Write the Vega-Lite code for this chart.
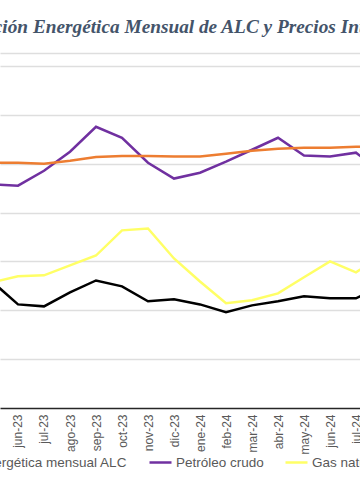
{
  "$schema": "https://vega.github.io/schema/vega-lite/v6.json",
  "autosize": {"type": "none"},
  "padding": {"top": 53, "left": 0, "right": 0, "bottom": 96},
  "width": 360,
  "height": 355,
  "background": "#ffffff",
  "title": {
    "text": "Producción Energética Mensual de ALC y Precios Internacionales",
    "font": "Liberation Serif",
    "fontSize": 19.3,
    "fontStyle": "italic",
    "fontWeight": "bold",
    "color": "#44546A",
    "anchor": "middle",
    "frame": "group",
    "baseline": "alphabetic",
    "offset": 22,
    "dx": 21,
    "dy": 21
  },
  "config": {
    "view": {"stroke": null},
    "axis": {"labelFont": "Liberation Sans", "labelColor": "#595959"}
  },
  "data": {
    "values": [
      {"i": 0, "mes": "may-23", "serie": "Producción energética mensual ALC", "valor": 51.8},
      {"i": 1, "mes": "jun-23", "serie": "Producción energética mensual ALC", "valor": 42.4},
      {"i": 2, "mes": "jul-23", "serie": "Producción energética mensual ALC", "valor": 41.6},
      {"i": 3, "mes": "ago-23", "serie": "Producción energética mensual ALC", "valor": 47.3},
      {"i": 4, "mes": "sep-23", "serie": "Producción energética mensual ALC", "valor": 52.2},
      {"i": 5, "mes": "oct-23", "serie": "Producción energética mensual ALC", "valor": 49.8},
      {"i": 6, "mes": "nov-23", "serie": "Producción energética mensual ALC", "valor": 43.7},
      {"i": 7, "mes": "dic-23", "serie": "Producción energética mensual ALC", "valor": 44.5},
      {"i": 8, "mes": "ene-24", "serie": "Producción energética mensual ALC", "valor": 42.4},
      {"i": 9, "mes": "feb-24", "serie": "Producción energética mensual ALC", "valor": 39.2},
      {"i": 10, "mes": "mar-24", "serie": "Producción energética mensual ALC", "valor": 42.0},
      {"i": 11, "mes": "abr-24", "serie": "Producción energética mensual ALC", "valor": 43.7},
      {"i": 12, "mes": "may-24", "serie": "Producción energética mensual ALC", "valor": 45.7},
      {"i": 13, "mes": "jun-24", "serie": "Producción energética mensual ALC", "valor": 44.9},
      {"i": 14, "mes": "jul-24", "serie": "Producción energética mensual ALC", "valor": 44.9},
      {"i": 15, "mes": "ago-24", "serie": "Producción energética mensual ALC", "valor": 49.8},

      {"i": 0, "mes": "may-23", "serie": "Petróleo crudo", "valor": 91.6},
      {"i": 1, "mes": "jun-23", "serie": "Petróleo crudo", "valor": 91.0},
      {"i": 2, "mes": "jul-23", "serie": "Petróleo crudo", "valor": 97.1},
      {"i": 3, "mes": "ago-23", "serie": "Petróleo crudo", "valor": 104.9},
      {"i": 4, "mes": "sep-23", "serie": "Petróleo crudo", "valor": 115.1},
      {"i": 5, "mes": "oct-23", "serie": "Petróleo crudo", "valor": 110.6},
      {"i": 6, "mes": "nov-23", "serie": "Petróleo crudo", "valor": 100.4},
      {"i": 7, "mes": "dic-23", "serie": "Petróleo crudo", "valor": 93.9},
      {"i": 8, "mes": "ene-24", "serie": "Petróleo crudo", "valor": 96.3},
      {"i": 9, "mes": "feb-24", "serie": "Petróleo crudo", "valor": 100.8},
      {"i": 10, "mes": "mar-24", "serie": "Petróleo crudo", "valor": 105.7},
      {"i": 11, "mes": "abr-24", "serie": "Petróleo crudo", "valor": 110.6},
      {"i": 12, "mes": "may-24", "serie": "Petróleo crudo", "valor": 103.3},
      {"i": 13, "mes": "jun-24", "serie": "Petróleo crudo", "valor": 102.9},
      {"i": 14, "mes": "jul-24", "serie": "Petróleo crudo", "valor": 104.5},
      {"i": 15, "mes": "ago-24", "serie": "Petróleo crudo", "valor": 96.3},

      {"i": 0, "mes": "may-23", "serie": "Gas natural", "valor": 51.4},
      {"i": 1, "mes": "jun-23", "serie": "Gas natural", "valor": 53.9},
      {"i": 2, "mes": "jul-23", "serie": "Gas natural", "valor": 54.3},
      {"i": 3, "mes": "ago-23", "serie": "Gas natural", "valor": 58.4},
      {"i": 4, "mes": "sep-23", "serie": "Gas natural", "valor": 62.4},
      {"i": 5, "mes": "oct-23", "serie": "Gas natural", "valor": 72.7},
      {"i": 6, "mes": "nov-23", "serie": "Gas natural", "valor": 73.5},
      {"i": 7, "mes": "dic-23", "serie": "Gas natural", "valor": 61.2},
      {"i": 8, "mes": "ene-24", "serie": "Gas natural", "valor": 51.8},
      {"i": 9, "mes": "feb-24", "serie": "Gas natural", "valor": 42.9},
      {"i": 10, "mes": "mar-24", "serie": "Gas natural", "valor": 44.1},
      {"i": 11, "mes": "abr-24", "serie": "Gas natural", "valor": 46.9},
      {"i": 12, "mes": "may-24", "serie": "Gas natural", "valor": 53.5},
      {"i": 13, "mes": "jun-24", "serie": "Gas natural", "valor": 60.0},
      {"i": 14, "mes": "jul-24", "serie": "Gas natural", "valor": 55.5},
      {"i": 15, "mes": "ago-24", "serie": "Gas natural", "valor": 62.4},

      {"i": 0, "mes": "may-23", "serie": "Carbón", "valor": 100.4},
      {"i": 1, "mes": "jun-23", "serie": "Carbón", "valor": 100.4},
      {"i": 2, "mes": "jul-23", "serie": "Carbón", "valor": 100.0},
      {"i": 3, "mes": "ago-23", "serie": "Carbón", "valor": 101.2},
      {"i": 4, "mes": "sep-23", "serie": "Carbón", "valor": 102.7},
      {"i": 5, "mes": "oct-23", "serie": "Carbón", "valor": 103.1},
      {"i": 6, "mes": "nov-23", "serie": "Carbón", "valor": 103.1},
      {"i": 7, "mes": "dic-23", "serie": "Carbón", "valor": 102.9},
      {"i": 8, "mes": "ene-24", "serie": "Carbón", "valor": 102.9},
      {"i": 9, "mes": "feb-24", "serie": "Carbón", "valor": 104.1},
      {"i": 10, "mes": "mar-24", "serie": "Carbón", "valor": 105.3},
      {"i": 11, "mes": "abr-24", "serie": "Carbón", "valor": 106.1},
      {"i": 12, "mes": "may-24", "serie": "Carbón", "valor": 106.5},
      {"i": 13, "mes": "jun-24", "serie": "Carbón", "valor": 106.5},
      {"i": 14, "mes": "jul-24", "serie": "Carbón", "valor": 106.9},
      {"i": 15, "mes": "ago-24", "serie": "Carbón", "valor": 106.9}
    ]
  },
  "mark": {"type": "line", "clip": true, "strokeWidth": 2.5},
  "encoding": {
    "x": {
      "field": "i",
      "type": "quantitative",
      "scale": {"domain": [0.3077, 14.1538], "nice": false, "zero": false},
      "axis": {
        "title": null,
        "values": [1, 2, 3, 4, 5, 6, 7, 8, 9, 10, 11, 12, 13, 14],
        "labelExpr": "['may-23','jun-23','jul-23','ago-23','sep-23','oct-23','nov-23','dic-23','ene-24','feb-24','mar-24','abr-24','may-24','jun-24','jul-24','ago-24'][datum.value]",
        "labelAngle": -90,
        "labelFontSize": 12,
        "labelPadding": 6,
        "ticks": false,
        "grid": false,
        "domainColor": "#262626",
        "domainWidth": 1.5,
        "labelFlush": false,
        "labelOverlap": false,
        "labelBound": false
      }
    },
    "y": {
      "field": "valor",
      "type": "quantitative",
      "scale": {"domain": [0, 145.3], "nice": false, "zero": true},
      "axis": {
        "title": null,
        "values": [20, 40, 60, 80, 100, 120, 140, 145.3],
        "labels": false,
        "ticks": false,
        "domain": false,
        "grid": true,
        "gridColor": "#dedede",
        "gridWidth": 1.5
      }
    },
    "color": {
      "field": "serie",
      "type": "nominal",
      "sort": null,
      "scale": {
        "domain": ["Producción energética mensual ALC", "Petróleo crudo", "Gas natural", "Carbón"],
        "range": ["#000000", "#7030A0", "#FFFF66", "#ED7D31"]
      },
      "legend": {
        "title": null,
        "orient": "none",
        "direction": "horizontal",
        "legendX": -120,
        "legendY": 397,
        "symbolType": "stroke",
        "symbolSize": 484,
        "symbolStrokeWidth": 2.5,
        "labelFont": "Liberation Sans",
        "labelFontSize": 13.5,
        "labelColor": "#595959",
        "labelOffset": 3,
        "columnPadding": 16,
        "labelLimit": 0
      }
    }
  }
}
